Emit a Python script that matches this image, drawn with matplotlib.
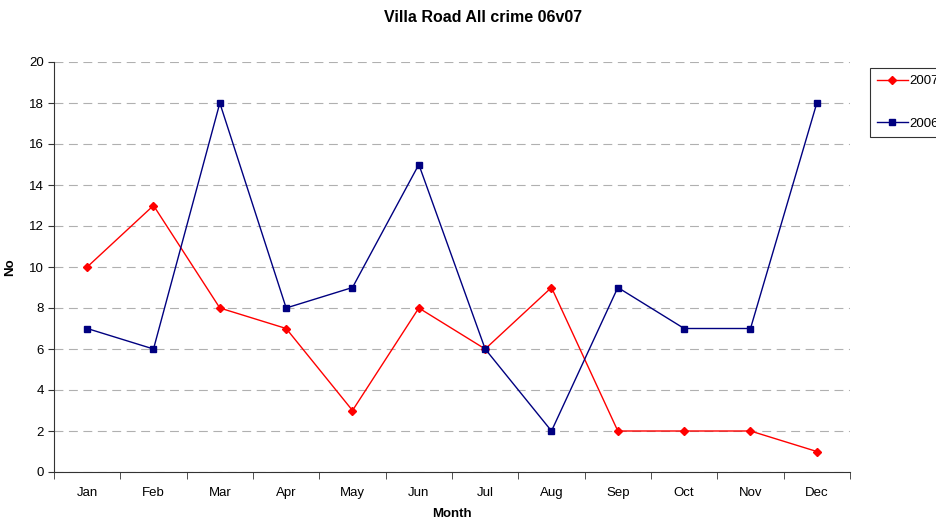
import matplotlib
matplotlib.use("Agg")
import matplotlib.pyplot as plt
import numpy as np

months = ["Jan", "Feb", "Mar", "Apr", "May", "Jun", "Jul", "Aug", "Sep", "Oct", "Nov", "Dec"]
crime_2007 = [10, 13, 8, 7, 3, 8, 6, 9, 2, 2, 2, 1]
crime_2006 = [7, 6, 18, 8, 9, 15, 6, 2, 9, 7, 7, 18]

plt.rcParams["font.family"] = ["Liberation Sans", "DejaVu Sans"]

fig = plt.figure(figsize=(9.37, 5.18), dpi=100)
ax = fig.add_axes([54 / 937, 46 / 518, 796 / 937, 410 / 518])

x = np.arange(len(months))
l07, = ax.plot(x, crime_2007, color="#ff0000", marker="D", ms=4.5, lw=1, label="2007")
l06, = ax.plot(x, crime_2006, color="#000080", marker="s", ms=5, lw=1, label="2006")

ax.set_xlim(-0.5, len(months) - 0.5)
ax.set_ylim(0, 20)
ax.set_yticks(range(0, 21, 2))
ax.set_xticks(x)
ax.set_xticklabels(months, fontsize=9.5)
ax.set_xticks(np.arange(-0.5, len(months), 1), minor=True)
ax.tick_params(axis="x", which="major", length=0, pad=11)
ax.tick_params(axis="x", which="minor", length=5, direction="out", color="#333333")
ax.tick_params(axis="y", labelsize=9.5, length=4, color="#333333")
ax.yaxis.grid(True, linestyle=(0, (8, 5)), color="#b0b0b0", lw=0.8)
ax.set_axisbelow(True)

for side in ["top", "right"]:
    ax.spines[side].set_visible(False)
for side in ["left", "bottom"]:
    ax.spines[side].set_color("#333333")

ax.set_xlabel("Month", fontsize=9.5, fontweight="bold", labelpad=6)
ax.set_ylabel("No", fontsize=9.5, fontweight="bold", labelpad=9)
fig.suptitle("Villa Road All crime 06v07", x=483 / 937, y=1 - 10 / 518,
             fontsize=11.5, fontweight="bold", va="top")

leg = fig.legend(handles=[l07, l06], loc="upper left", bbox_to_anchor=(870 / 937, 1 - 68 / 518),
                 fontsize=9.5, frameon=True, fancybox=False, edgecolor="black",
                 labelspacing=2.3, handlelength=2.3, borderpad=0.55, borderaxespad=0,
                 handletextpad=0.1)
leg.get_frame().set_linewidth(0.8)

fig.savefig("out.png", dpi=100)
